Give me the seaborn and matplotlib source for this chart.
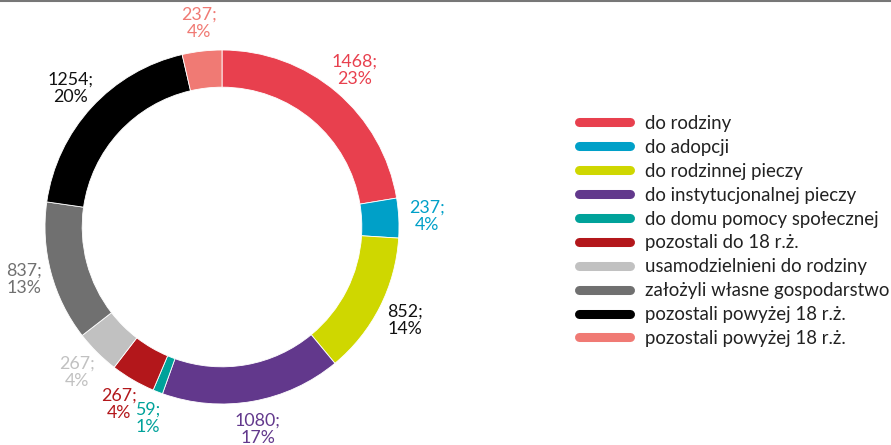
import matplotlib
matplotlib.use("Agg")
import matplotlib.pyplot as plt
from matplotlib.lines import Line2D
import seaborn as sns

# data
categories = ["do rodziny", "do adopcji", "do rodzinnej pieczy", "do instytucjonalnej pieczy",
              "do domu pomocy społecznej", "pozostali do 18 r.ż.", "usamodzielnieni do rodziny",
              "założyli własne gospodarstwo", "pozostali powyżej 18 r.ż.", "pozostali powyżej 18 r.ż."]
values = [1468, 237, 852, 1080, 59, 267, 267, 837, 1254, 237]
percents = [23, 4, 14, 17, 1, 4, 4, 13, 20, 4]
colors = ["#E8404E", "#00A0C8", "#CFD700", "#62388C", "#00A29A", "#B3171B",
          "#C1C1C1", "#707070", "#000000", "#F07A74"]
label_colors = ["#E8404E", "#00A0C8", "#111111", "#62388C", "#00A29A", "#B3171B",
                "#C1C1C1", "#707070", "#111111", "#F07A74"]

sns.set_theme(style="white")
plt.rcParams["font.family"] = ["Lato", "DejaVu Sans"]

fig = plt.figure(figsize=(8.91, 4.45), dpi=100)
W, H = 891, 445
cx, cy, r = 222, 227, 177
ax = fig.add_axes([(cx - r) / W, (H - cy - r) / H, 2 * r / W, 2 * r / H])

labels_txt = [f"{v};\n{p}%" for v, p in zip(values, percents)]
it = iter(labels_txt)
wedges, _, autotexts = ax.pie(values, colors=colors, startangle=90, counterclock=False,
                              radius=1, autopct=lambda pct: next(it), pctdistance=1.16,
                              wedgeprops=dict(width=0.21, edgecolor="white", linewidth=0.6))
for t, c in zip(autotexts, label_colors):
    t.set_color(c)
    t.set_fontsize(12.8)
    t.set_linespacing(1.12)
ax.set_xlim(-1, 1)
ax.set_ylim(-1, 1)
ax.set_aspect("equal")
ax.axis("off")

handles = [Line2D([0], [0], color=c, lw=6.5, solid_capstyle="round") for c in colors]
fig.legend(handles, categories, loc="center left", bbox_to_anchor=(0.650, 0.481),
           frameon=False, fontsize=13.4, handlelength=2.75, handletextpad=0.78,
           labelspacing=0.37, borderpad=0, borderaxespad=0, labelcolor="#222222")

# thin rule along the top edge
fig.add_artist(Line2D([0, 1], [0.998, 0.998], color="#777777", lw=1.5, transform=fig.transFigure))

fig.savefig("out.png", dpi=100)
